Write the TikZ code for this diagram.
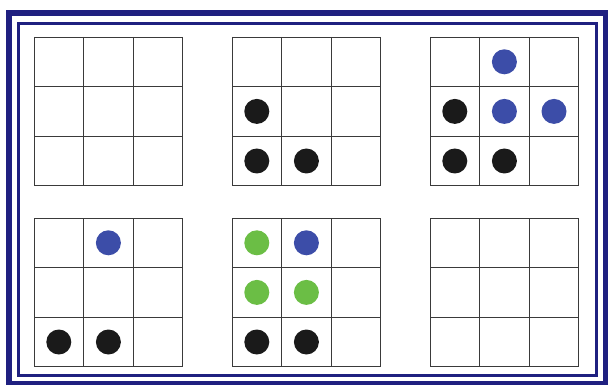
\documentclass[tikz,border=0pt]{standalone}
\usepackage{tikz}
\usetikzlibrary{positioning}
\definecolor{framenavy}{HTML}{1F2080}
\definecolor{dotblue}{HTML}{3C4DA8}
\definecolor{dotgreen}{HTML}{6BBE45}
\definecolor{dotblack}{HTML}{1A1A1A}
\definecolor{gridgrey}{HTML}{3A3A3A}
\tikzset{
  gridline/.style={gridgrey, line width=0.9pt},
  token/.style={circle, inner sep=0pt, minimum size=25pt},
}
\begin{document}
\begin{tikzpicture}[x=1pt, y=-1pt]
  \useasboundingbox (0,0) rectangle (608,385);
  % frame
  \draw[framenavy, line width=6pt] (8.5,13.5) rectangle (606,384);
  \draw[framenavy, line width=3pt] (18,23.5) rectangle (596,375.5);
  % the six boards
  \foreach \gx in {34,232,430}{ \foreach \gy in {37,218}{
      \foreach \k in {0,...,3}{
        \draw[gridline] ({\gx+\k*49.6},\gy) -- ({\gx+\k*49.6},{\gy+148.8});
        \draw[gridline] (\gx,{\gy+\k*49.6}) -- ({\gx+148.8},{\gy+\k*49.6});
      }
  }}
  % board 2
  \foreach \c/\r in {0/1,0/2,1/2}{ \node[token, fill=dotblack] at ({232+24.8+\c*49.6},{37+24.8+\r*49.6}) {}; }
  % board 3
  \foreach \c/\r in {0/1,0/2,1/2}{ \node[token, fill=dotblack] at ({430+24.8+\c*49.6},{37+24.8+\r*49.6}) {}; }
  \foreach \c/\r in {1/0,1/1,2/1}{ \node[token, fill=dotblue] at ({430+24.8+\c*49.6},{37+24.8+\r*49.6}) {}; }
  % board 4
  \foreach \c/\r in {0/2,1/2}{ \node[token, fill=dotblack] at ({34+24.8+\c*49.6},{218+24.8+\r*49.6}) {}; }
  \node[token, fill=dotblue] (b4top) at ({34+24.8+49.6},{218+24.8}) {};
  % board 5
  \foreach \c/\r in {0/2,1/2}{ \node[token, fill=dotblack] at ({232+24.8+\c*49.6},{218+24.8+\r*49.6}) {}; }
  \foreach \c/\r in {0/0,0/1,1/1}{ \node[token, fill=dotgreen] at ({232+24.8+\c*49.6},{218+24.8+\r*49.6}) {}; }
  \node[token, fill=dotblue] (b5top) at ({232+24.8+49.6},{218+24.8}) {};
\end{tikzpicture}
\end{document}
